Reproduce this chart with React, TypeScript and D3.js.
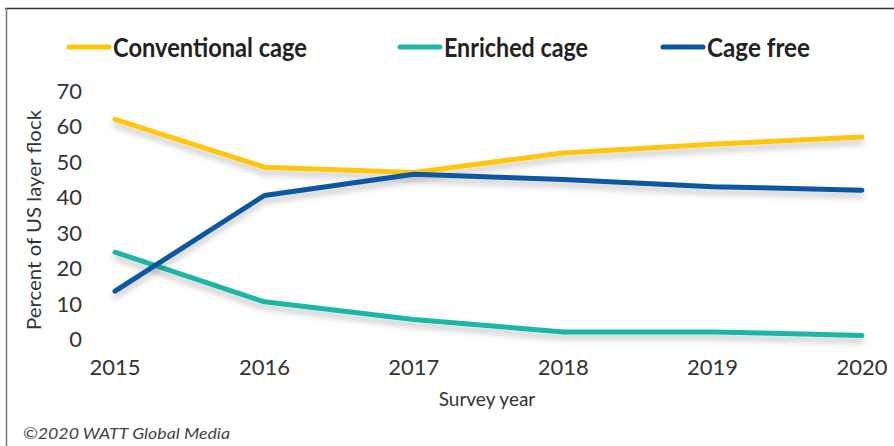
import { useEffect, useRef } from 'react';
import * as d3 from 'd3';

// ── Datos ─────────────────────────────────────────────────────────────────────
const years = [2015, 2016, 2017, 2018, 2019, 2020];
const conventional = [62, 48.5, 47, 52.5, 55, 57];
const enriched = [24.5, 10.5, 5.5, 2, 2, 1];
const cageFree = [13.5, 40.5, 46.5, 45, 43, 42];
const yTicks = [0, 10, 20, 30, 40, 50, 60, 70];

const seriesNames = ['Conventional cage', 'Enriched cage', 'Cage free'];
const seriesColors = ['#FFC60B', '#1AB6A6', '#0A56A4'];
const seriesValues = [conventional, enriched, cageFree];

const W = 894;
const H = 446;

export default function App() {
  const svgRef = useRef<SVGSVGElement | null>(null);

  useEffect(() => {
    if (!svgRef.current) return;
    const svg = d3.select(svgRef.current);
    svg.selectAll('*').remove();

    const font = 'Lato, "Open Sans", sans-serif';

    const x = d3.scalePoint<number>().domain(years).range([115, 862]);
    const y = d3.scaleLinear().domain([0, 70]).range([339, 91]);

    // ── Sombra suave ────────────────────────────────────────────────────────
    const defs = svg.append('defs');
    const f = defs.append('filter').attr('id', 'shadow')
      .attr('x', '-10%').attr('y', '-50%').attr('width', '120%').attr('height', '200%');
    f.append('feDropShadow').attr('dx', 0).attr('dy', 5).attr('stdDeviation', 3)
      .attr('flood-color', '#000').attr('flood-opacity', 0.22);
    const g2 = defs.append('filter').attr('id', 'gshadow')
      .attr('x', '-5%').attr('y', '-200%').attr('width', '110%').attr('height', '500%');
    g2.append('feDropShadow').attr('dx', 0).attr('dy', 1.5).attr('stdDeviation', 1)
      .attr('flood-color', '#000').attr('flood-opacity', 0.18);

    svg.append('rect').attr('width', W).attr('height', H).attr('fill', '#fff');

    // ── Marco ───────────────────────────────────────────────────────────────
    svg.append('line').attr('x1', 5).attr('x2', W).attr('y1', 8.5).attr('y2', 8.5)
      .attr('stroke', '#333').attr('stroke-width', 1.5);
    svg.append('line').attr('x1', 6.5).attr('x2', 6.5).attr('y1', 8).attr('y2', H)
      .attr('stroke', '#777').attr('stroke-width', 1.5);

    // ── Cuadrícula y eje Y ──────────────────────────────────────────────────
    const grid = svg.append('g');
    grid.selectAll('line').data(yTicks).join('line')
      .attr('x1', 90).attr('x2', 886)
      .attr('y1', d => y(d)).attr('y2', d => y(d))
      .attr('stroke', '#8c8c8c').attr('stroke-width', 2)
      .attr('filter', 'url(#gshadow)');
    svg.append('g').selectAll('text').data(yTicks).join('text')
      .attr('x', 82).attr('y', d => y(d) + 8)
      .attr('text-anchor', 'end')
      .attr('font-family', font).attr('font-size', 22).attr('fill', '#333')
      .text(d => d);

    // ── Eje X ───────────────────────────────────────────────────────────────
    svg.append('g').selectAll('text').data(years).join('text')
      .attr('x', d => x(d)!).attr('y', 375)
      .attr('text-anchor', 'middle')
      .attr('font-family', font).attr('font-size', 22).attr('fill', '#333')
      .text(d => d);

    svg.append('text').attr('x', 487).attr('y', 406).attr('text-anchor', 'middle')
      .attr('font-family', font).attr('font-size', 19).attr('fill', '#333')
      .text('Survey year');

    svg.append('text')
      .attr('transform', `translate(41,220) rotate(-90)`)
      .attr('text-anchor', 'middle')
      .attr('font-family', font).attr('font-size', 19).attr('fill', '#333')
      .attr('textLength', 220).attr('lengthAdjust', 'spacingAndGlyphs')
      .text('Percent of US layer flock');

    // ── Líneas ──────────────────────────────────────────────────────────────
    const line = d3.line<number>()
      .x((_, i) => x(years[i])!)
      .y(d => y(d));

    svg.append('g').selectAll('path').data(seriesValues).join('path')
      .attr('d', d => line(d))
      .attr('fill', 'none')
      .attr('stroke', (_, i) => seriesColors[i])
      .attr('stroke-width', 5)
      .attr('stroke-linecap', 'round')
      .attr('stroke-linejoin', 'round')
      .attr('filter', 'url(#shadow)');

    // ── Leyenda ─────────────────────────────────────────────────────────────
    const legendX = [69, 400, 663];
    const legendW = [194, 144, 103];
    const leg = svg.append('g');
    seriesNames.forEach((name, i) => {
      leg.append('line')
        .attr('x1', legendX[i]).attr('x2', legendX[i] + 40)
        .attr('y1', 47).attr('y2', 47)
        .attr('stroke', seriesColors[i]).attr('stroke-width', 5)
        .attr('stroke-linecap', 'round');
      leg.append('text')
        .attr('x', legendX[i] + 44).attr('y', 57)
        .attr('font-family', font).attr('font-weight', 700)
        .attr('font-size', 27).attr('fill', '#222')
        .attr('textLength', legendW[i]).attr('lengthAdjust', 'spacingAndGlyphs')
        .text(name);
    });

    // ── Pie ─────────────────────────────────────────────────────────────────
    svg.append('text').attr('x', 23).attr('y', 439)
      .attr('font-family', font).attr('font-style', 'italic')
      .attr('font-size', 16).attr('fill', '#444')
      .attr('textLength', 207).attr('lengthAdjust', 'spacingAndGlyphs')
      .text('©2020 WATT Global Media');
  }, []);

  return (
    <div style={{ position: 'fixed', left: 0, top: 0 }}>
      <svg ref={svgRef} width={W} height={H} style={{ display: 'block' }} />
    </div>
  );
}
